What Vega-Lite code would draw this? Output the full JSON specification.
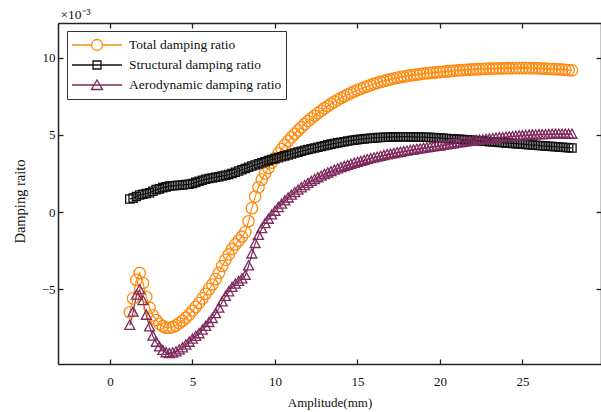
{
  "$schema": "https://vega.github.io/schema/vega-lite/v6.json",
  "width": 543,
  "height": 341,
  "autosize": {"type": "none"},
  "padding": {"left": 58, "top": 23, "right": 0, "bottom": 48},
  "config": {
    "font": "Liberation Serif",
    "view": {"stroke": null},
    "axis": {
      "grid": false,
      "domainColor": "#222",
      "domainWidth": 1.5,
      "tickColor": "#222",
      "tickWidth": 1.3,
      "tickSize": -5,
      "labelFont": "Liberation Serif",
      "labelFontSize": 13,
      "labelColor": "#111",
      "titleFont": "Liberation Serif",
      "titleFontSize": 13,
      "titleFontWeight": "normal",
      "titleColor": "#111"
    }
  },
  "data": {
    "values": [
      {"a":1.2,"T":-6.5,"S":0.85,"A":-7.35},{"a":1.4,"T":-5.6,"S":0.9,"A":-6.5},{"a":1.6,"T":-4.4,"S":1.0,"A":-5.4},{"a":1.8,"T":-3.95,"S":1.1,"A":-5.05},{"a":2.0,"T":-4.6,"S":1.15,"A":-5.75},
      {"a":2.2,"T":-5.5,"S":1.2,"A":-6.7},{"a":2.4,"T":-6.2,"S":1.25,"A":-7.45},{"a":2.6,"T":-6.7,"S":1.35,"A":-8.05},{"a":2.8,"T":-7.0,"S":1.45,"A":-8.45},{"a":3.0,"T":-7.25,"S":1.5,"A":-8.75},
      {"a":3.2,"T":-7.4,"S":1.58,"A":-8.98},{"a":3.4,"T":-7.5,"S":1.63,"A":-9.13},{"a":3.6,"T":-7.5,"S":1.68,"A":-9.18},{"a":3.8,"T":-7.45,"S":1.7,"A":-9.15},{"a":4.0,"T":-7.35,"S":1.72,"A":-9.07},
      {"a":4.2,"T":-7.2,"S":1.74,"A":-8.94},{"a":4.4,"T":-7.05,"S":1.76,"A":-8.81},{"a":4.6,"T":-6.85,"S":1.78,"A":-8.63},{"a":4.8,"T":-6.65,"S":1.8,"A":-8.45},{"a":5.0,"T":-6.4,"S":1.85,"A":-8.25},
      {"a":5.2,"T":-6.15,"S":1.92,"A":-8.07},{"a":5.4,"T":-5.9,"S":2.0,"A":-7.9},{"a":5.6,"T":-5.6,"S":2.06,"A":-7.66},{"a":5.8,"T":-5.3,"S":2.12,"A":-7.42},{"a":6.0,"T":-5.0,"S":2.17,"A":-7.17},
      {"a":6.2,"T":-4.7,"S":2.21,"A":-6.91},{"a":6.4,"T":-4.35,"S":2.25,"A":-6.6},{"a":6.6,"T":-3.95,"S":2.29,"A":-6.24},{"a":6.8,"T":-3.5,"S":2.33,"A":-5.83},{"a":7.0,"T":-3.1,"S":2.38,"A":-5.48},
      {"a":7.2,"T":-2.75,"S":2.43,"A":-5.18},{"a":7.4,"T":-2.4,"S":2.5,"A":-4.9},{"a":7.6,"T":-2.1,"S":2.58,"A":-4.68},{"a":7.8,"T":-1.85,"S":2.66,"A":-4.51},{"a":8.0,"T":-1.6,"S":2.74,"A":-4.34},
      {"a":8.2,"T":-1.3,"S":2.82,"A":-4.12},{"a":8.4,"T":-0.6,"S":2.9,"A":-3.5},{"a":8.6,"T":0.25,"S":2.98,"A":-2.73},{"a":8.8,"T":1.0,"S":3.05,"A":-2.05},{"a":9.0,"T":1.6,"S":3.12,"A":-1.52},
      {"a":9.2,"T":2.1,"S":3.19,"A":-1.09},{"a":9.4,"T":2.5,"S":3.26,"A":-0.76},{"a":9.6,"T":2.85,"S":3.33,"A":-0.48},{"a":9.8,"T":3.2,"S":3.4,"A":-0.2},{"a":10.0,"T":3.5,"S":3.46,"A":0.04},
      {"a":10.2,"T":3.8,"S":3.52,"A":0.28},{"a":10.4,"T":4.08,"S":3.58,"A":0.5},{"a":10.6,"T":4.35,"S":3.64,"A":0.71},{"a":10.8,"T":4.6,"S":3.7,"A":0.9},{"a":11.0,"T":4.84,"S":3.76,"A":1.08},
      {"a":11.2,"T":5.07,"S":3.82,"A":1.25},{"a":11.4,"T":5.29,"S":3.88,"A":1.41},{"a":11.6,"T":5.5,"S":3.94,"A":1.56},{"a":11.8,"T":5.7,"S":4.0,"A":1.7},{"a":12.0,"T":5.89,"S":4.05,"A":1.84},
      {"a":12.2,"T":6.07,"S":4.1,"A":1.97},{"a":12.4,"T":6.24,"S":4.15,"A":2.09},{"a":12.6,"T":6.41,"S":4.2,"A":2.21},{"a":12.8,"T":6.57,"S":4.25,"A":2.32},{"a":13.0,"T":6.72,"S":4.3,"A":2.42},
      {"a":13.2,"T":6.87,"S":4.35,"A":2.52},{"a":13.4,"T":7.01,"S":4.4,"A":2.61},{"a":13.6,"T":7.14,"S":4.44,"A":2.7},{"a":13.8,"T":7.27,"S":4.48,"A":2.79},{"a":14.0,"T":7.39,"S":4.52,"A":2.87},
      {"a":14.2,"T":7.5,"S":4.56,"A":2.94},{"a":14.4,"T":7.61,"S":4.6,"A":3.01},{"a":14.6,"T":7.71,"S":4.63,"A":3.08},{"a":14.8,"T":7.81,"S":4.66,"A":3.15},{"a":15.0,"T":7.9,"S":4.69,"A":3.21},
      {"a":15.2,"T":7.99,"S":4.72,"A":3.27},{"a":15.4,"T":8.07,"S":4.74,"A":3.33},{"a":15.6,"T":8.15,"S":4.76,"A":3.39},{"a":15.8,"T":8.23,"S":4.78,"A":3.45},{"a":16.0,"T":8.3,"S":4.8,"A":3.5},
      {"a":16.2,"T":8.37,"S":4.82,"A":3.55},{"a":16.4,"T":8.43,"S":4.83,"A":3.6},{"a":16.6,"T":8.49,"S":4.84,"A":3.65},{"a":16.8,"T":8.55,"S":4.85,"A":3.7},{"a":17.0,"T":8.6,"S":4.86,"A":3.74},
      {"a":17.2,"T":8.65,"S":4.87,"A":3.78},{"a":17.4,"T":8.7,"S":4.87,"A":3.83},{"a":17.6,"T":8.74,"S":4.88,"A":3.86},{"a":17.8,"T":8.78,"S":4.88,"A":3.9},{"a":18.0,"T":8.82,"S":4.88,"A":3.94},
      {"a":18.2,"T":8.85,"S":4.87,"A":3.98},{"a":18.4,"T":8.88,"S":4.87,"A":4.01},{"a":18.6,"T":8.91,"S":4.86,"A":4.05},{"a":18.8,"T":8.94,"S":4.86,"A":4.08},{"a":19.0,"T":8.97,"S":4.85,"A":4.12},
      {"a":19.2,"T":8.99,"S":4.84,"A":4.15},{"a":19.4,"T":9.01,"S":4.83,"A":4.18},{"a":19.6,"T":9.03,"S":4.82,"A":4.21},{"a":19.8,"T":9.05,"S":4.81,"A":4.24},{"a":20.0,"T":9.07,"S":4.8,"A":4.27},
      {"a":20.2,"T":9.09,"S":4.78,"A":4.31},{"a":20.4,"T":9.11,"S":4.77,"A":4.34},{"a":20.6,"T":9.13,"S":4.75,"A":4.38},{"a":20.8,"T":9.15,"S":4.74,"A":4.41},{"a":21.0,"T":9.17,"S":4.72,"A":4.45},
      {"a":21.2,"T":9.19,"S":4.71,"A":4.48},{"a":21.4,"T":9.2,"S":4.69,"A":4.51},{"a":21.6,"T":9.22,"S":4.68,"A":4.54},{"a":21.8,"T":9.23,"S":4.66,"A":4.57},{"a":22.0,"T":9.24,"S":4.65,"A":4.59},
      {"a":22.2,"T":9.25,"S":4.63,"A":4.62},{"a":22.4,"T":9.26,"S":4.61,"A":4.65},{"a":22.6,"T":9.27,"S":4.6,"A":4.67},{"a":22.8,"T":9.28,"S":4.58,"A":4.7},{"a":23.0,"T":9.29,"S":4.56,"A":4.73},
      {"a":23.2,"T":9.3,"S":4.55,"A":4.75},{"a":23.4,"T":9.3,"S":4.53,"A":4.77},{"a":23.6,"T":9.31,"S":4.51,"A":4.8},{"a":23.8,"T":9.31,"S":4.5,"A":4.81},{"a":24.0,"T":9.32,"S":4.48,"A":4.84},
      {"a":24.2,"T":9.32,"S":4.46,"A":4.86},{"a":24.4,"T":9.33,"S":4.45,"A":4.88},{"a":24.6,"T":9.33,"S":4.43,"A":4.9},{"a":24.8,"T":9.33,"S":4.41,"A":4.92},{"a":25.0,"T":9.33,"S":4.4,"A":4.93},
      {"a":25.2,"T":9.33,"S":4.38,"A":4.95},{"a":25.4,"T":9.33,"S":4.36,"A":4.97},{"a":25.6,"T":9.32,"S":4.34,"A":4.98},{"a":25.8,"T":9.32,"S":4.33,"A":4.99},{"a":26.0,"T":9.31,"S":4.31,"A":5.0},
      {"a":26.2,"T":9.3,"S":4.29,"A":5.01},{"a":26.4,"T":9.29,"S":4.28,"A":5.01},{"a":26.6,"T":9.28,"S":4.26,"A":5.02},{"a":26.8,"T":9.27,"S":4.24,"A":5.03},{"a":27.0,"T":9.26,"S":4.23,"A":5.03},
      {"a":27.2,"T":9.25,"S":4.21,"A":5.04},{"a":27.4,"T":9.23,"S":4.2,"A":5.03},{"a":27.6,"T":9.22,"S":4.18,"A":5.04},{"a":27.8,"T":9.2,"S":4.17,"A":5.03},{"a":28.0,"T":9.18,"S":4.15,"A":5.03}
    ]
  },
  "transform": [{"fold": ["T", "S", "A"], "as": ["series", "v"]}],
  "layer": [
    {
      "encoding": {
        "x": {"field": "a", "type": "quantitative", "scale": {"domain": [-3.15, 29.76], "nice": false, "zero": false},
              "axis": {"orient": "bottom", "values": [0, 5, 10, 15, 20, 25], "title": "Amplitude(mm)", "labelPadding": 16, "titlePadding": 8}},
        "y": {"field": "v", "type": "quantitative", "scale": {"domain": [-9.85, 12.25], "nice": false, "zero": false},
              "axis": {"orient": "left", "values": [-5, 0, 5, 10], "title": "Damping raito", "labelPadding": 8, "titlePadding": 14, "titleFontSize": 14.5, "titleY": 178}},
        "color": {"field": "series", "type": "nominal", "scale": {"domain": ["T", "S", "A"], "range": ["#FF8A10", "#111111", "#7E2A5E"]},
          "legend": {
            "orient": "none", "legendX": 9, "legendY": 8, "title": null,
            "strokeColor": "#333", "fillColor": "white", "padding": 4, "clipHeight": 20, "rowPadding": 0,
            "symbolSize": 2500, "symbolStrokeWidth": 1.3, "labelOffset": 6, "symbolType": "circle",
            "labelFont": "Liberation Serif", "labelFontSize": 13.5, "labelColor": "#111",
            "labelExpr": "datum.value == 'T' ? 'Total damping ratio' : datum.value == 'S' ? 'Structural damping ratio' : 'Aerodynamic damping ratio\u00a0\u00a0\u00a0\u00a0\u00a0\u00a0\u00a0\u00a0\u00a0\u00a0\u00a0\u00a0\u00a0\u00a0\u00a0'",
            "labelLimit": 400,
            "encode": {"symbols": {"update": {
              "size": {"value": 2500},
              "fill": {"value": "white"},
              "strokeWidth": {"value": 1.3},
              "shape": {"signal": "datum.value == 'T' ? 'M-1,0H-0.22M0.22,0H1M-0.22,0A0.22,0.22,0,1,1,0.22,0A0.22,0.22,0,1,1,-0.22,0Z' : datum.value == 'S' ? 'M-1,0H1M-0.16,-0.16H0.16V0.16H-0.16Z' : 'M-1,0H1M-0.22,0.18L0,-0.2L0.22,0.18Z'"}
            }}}
          }}
      },
      "layer": [
        {"mark": {"type": "line", "strokeWidth": 1.2}},
        {
          "transform": [{"filter": "datum.series == 'T'"}],
          "mark": {"type": "point", "filled": false, "strokeWidth": 1.3, "size": 130, "opacity": 1, "shape": "M-1,0A1,1,0,1,1,1,0A1,1,0,1,1,-1,0Z"}
        },
        {
          "transform": [{"filter": "datum.series == 'S'"}],
          "mark": {"type": "point", "filled": false, "strokeWidth": 1.3, "size": 121, "opacity": 1, "shape": "M-0.75,-0.75H0.75V0.75H-0.75Z"}
        },
        {
          "transform": [{"filter": "datum.series == 'A'"}],
          "mark": {"type": "point", "filled": false, "strokeWidth": 1.3, "size": 121, "opacity": 1, "shape": "M-0.9,0.7L0,-0.95L0.9,0.7Z"}
        }
      ]
    },
    {
      "mark": {"type": "point", "opacity": 0},
      "encoding": {
        "x": {"field": "a", "type": "quantitative", "scale": {"domain": [-3.15, 29.76], "nice": false, "zero": false},
              "axis": {"orient": "top", "values": [0, 5, 10, 15, 20, 25], "labels": false, "title": "×10⁻³", "titleAnchor": "start", "titleAlign": "left", "titleX": 2, "titleY": -5, "titleBaseline": "alphabetic", "titleFontSize": 13.5}},
        "y": {"field": "v", "type": "quantitative", "scale": {"domain": [-9.85, 12.25], "nice": false, "zero": false},
              "axis": {"orient": "right", "values": [-5, 0, 5, 10], "labels": false, "title": null}}
      }
    }
  ],
  "resolve": {"scale": {"x": "independent", "y": "independent"}}
}
